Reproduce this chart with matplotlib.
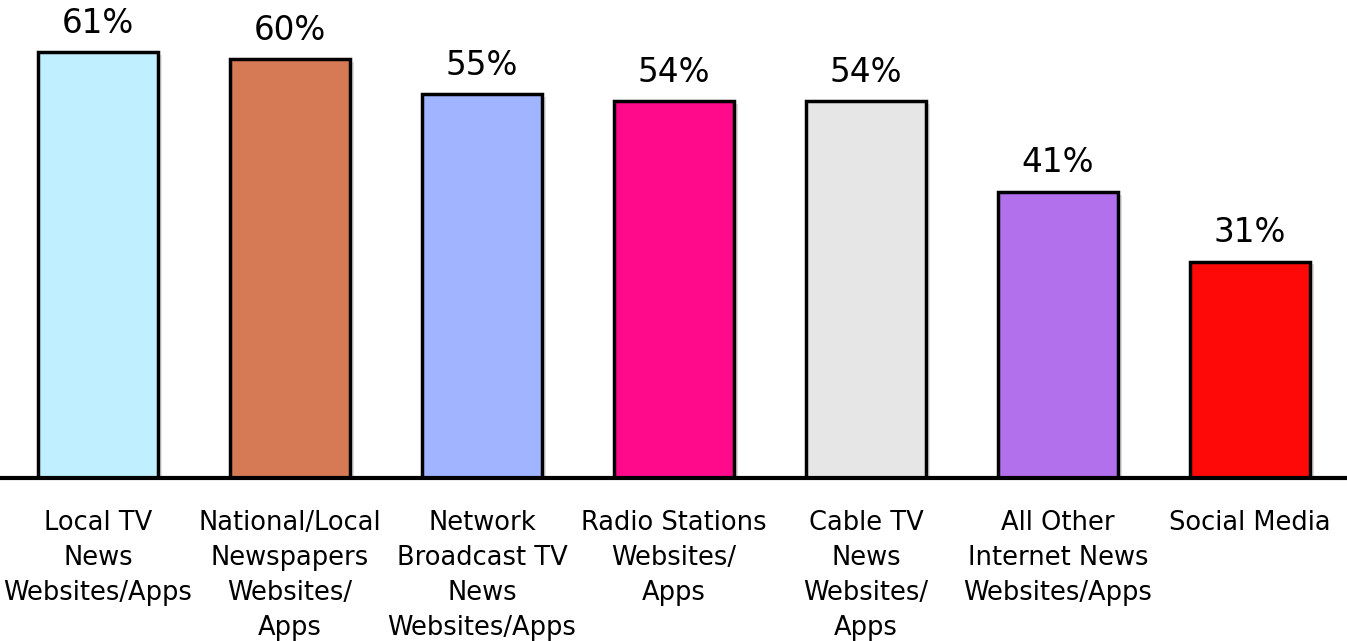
import matplotlib
matplotlib.use('Agg')
import matplotlib.pyplot as plt
import matplotlib.patheffects as pe

# share of respondents per news source
categories = [
    'Local TV\nNews\nWebsites/Apps',
    'National/Local\nNewspapers\nWebsites/\nApps',
    'Network\nBroadcast TV\nNews\nWebsites/Apps',
    'Radio Stations\nWebsites/\nApps',
    'Cable TV\nNews\nWebsites/\nApps',
    'All Other\nInternet News\nWebsites/Apps',
    'Social Media',
]
values = [61, 60, 55, 54, 54, 41, 31]
bar_colors = ['#C0F0FF', '#D67A55', '#A0B4FF', '#FF0A8A', '#E6E6E6', '#B370EC', '#FF0808']

fig = plt.figure(figsize=(13.47, 6.41), dpi=100)
ax = fig.add_axes([0, 0.2543, 1, 0.7457])

x = range(len(values))
bars = ax.bar(x, values, width=0.625, color=bar_colors, edgecolor='black', linewidth=2.5, zorder=3)
for b in bars:
    b.set_path_effects([pe.SimplePatchShadow(offset=(3, -2), alpha=0.15), pe.Normal()])

for xi, v in zip(x, values):
    ax.annotate(f'{v}%', (xi, v), xytext=(0, 9), textcoords='offset points',
                ha='center', va='bottom', fontsize=23.5)

for xi, lab in zip(x, categories):
    ax.text(xi, -4.6, lab, ha='center', va='top', fontsize=18.5, linespacing=1.45)

ax.set_xlim(-0.51, 6.505)
ax.set_ylim(0, 68.5)
for s in ['top', 'left', 'right']:
    ax.spines[s].set_visible(False)
ax.spines['bottom'].set_linewidth(3)
ax.spines['bottom'].set_zorder(4)
ax.set_xticks([])
ax.set_yticks([])
ax.patch.set_alpha(0)

plt.savefig('out.png', dpi=100)
